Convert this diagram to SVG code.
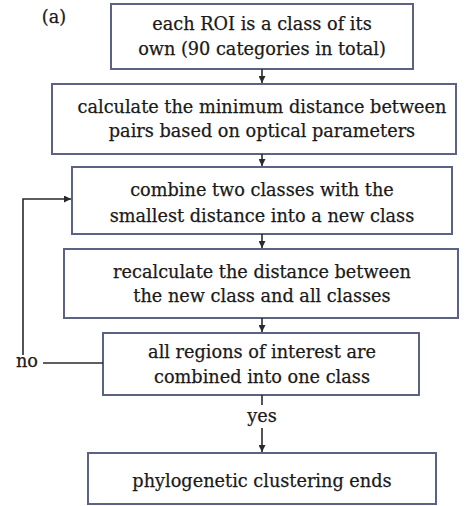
<svg xmlns="http://www.w3.org/2000/svg" width="476" height="506" viewBox="0 0 476 506">
<defs>
<marker id="ah" viewBox="0 0 10 10" refX="10" refY="5" markerWidth="7" markerHeight="7" markerUnits="userSpaceOnUse" orient="auto"><path d="M0,0 L10,5 L0,10 z" fill="#2a2a2a"/></marker>
<style>
.box{fill:#fff;stroke:#5b6283;stroke-width:2}
.t{font-family:"DejaVu Serif","Liberation Serif",serif;font-size:17.7px;fill:#1a1a1a;text-anchor:middle;stroke:#1a1a1a;stroke-width:0.25}
.l{fill:none;stroke:#2a2a2a;stroke-width:1.6}
</style>
</defs>
<rect width="476" height="506" fill="#fff"/>
<text class="t" x="54" y="23">(a)</text>
<g id="n1"><rect class="box" x="111" y="4" width="302" height="65"/><text class="t" x="262" y="30">each ROI is a class of its</text><text class="t" x="262" y="55">own (90 categories in total)</text></g>
<g id="n2"><rect class="box" x="52" y="84" width="404" height="70"/><text class="t" x="262" y="113">calculate the minimum distance between</text><text class="t" x="262" y="137">pairs based on optical parameters</text></g>
<g id="n3"><rect class="box" x="72" y="167" width="380" height="67"/><text class="t" x="262" y="196">combine two classes with the</text><text class="t" x="262" y="222">smallest distance into a new class</text></g>
<g id="n4"><rect class="box" x="64" y="249" width="394" height="69"/><text class="t" x="262" y="278">recalculate the distance between</text><text class="t" x="262" y="302">the new class and all classes</text></g>
<g id="n5"><rect class="box" x="103" y="333" width="316" height="62"/><text class="t" x="262" y="358">all regions of interest are</text><text class="t" x="262" y="383">combined into one class</text></g>
<g id="n6"><rect class="box" x="88" y="453" width="348" height="51"/><text class="t" x="262" y="487">phylogenetic clustering ends</text></g>
<g id="edges">
<line class="l" x1="262" y1="69" x2="262" y2="83" marker-end="url(#ah)"/>
<line class="l" x1="262" y1="154" x2="262" y2="166" marker-end="url(#ah)"/>
<line class="l" x1="262" y1="234" x2="262" y2="248" marker-end="url(#ah)"/>
<line class="l" x1="262" y1="318" x2="262" y2="332" marker-end="url(#ah)"/>
<line class="l" x1="262" y1="395" x2="262" y2="405"/>
<line class="l" x1="262" y1="428" x2="262" y2="452" marker-end="url(#ah)"/>
<polyline class="l" points="103,363 43,363"/>
<polyline class="l" points="23,355 23,199 71,199" marker-end="url(#ah)"/>
<text class="t" x="27" y="367">no</text>
<text class="t" x="262" y="422">yes</text>
</g>
</svg>
